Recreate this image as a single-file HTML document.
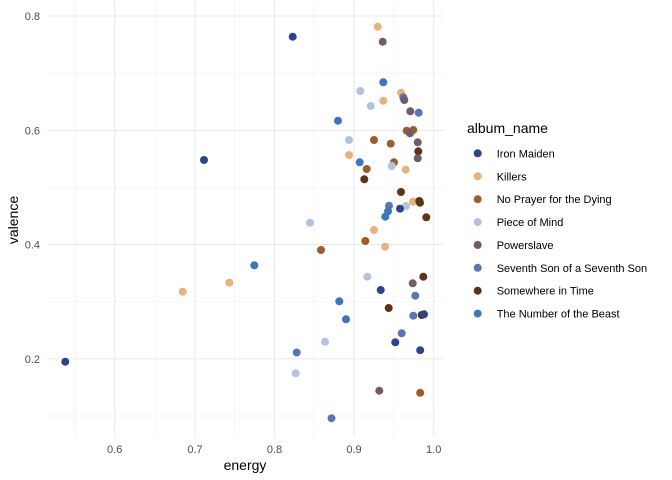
<!DOCTYPE html>
<html><head><meta charset="utf-8"><style>
html,body{margin:0;padding:0;background:#fff;}
svg{display:block;font-family:"Liberation Sans",Arial,sans-serif;}
</style></head><body>
<svg width="672" height="480" viewBox="0 0 672 480" xmlns="http://www.w3.org/2000/svg">
<rect width="672" height="480" fill="#fff"/>
<g stroke="#f0f0f0" stroke-width="0.6">
<line x1="75.5" y1="0" x2="75.5" y2="437"/><line x1="155" y1="0" x2="155" y2="437"/><line x1="234.5" y1="0" x2="234.5" y2="437"/><line x1="314" y1="0" x2="314" y2="437"/><line x1="394" y1="0" x2="394" y2="437"/>
<line x1="47" y1="73" x2="444" y2="73"/><line x1="47" y1="187.5" x2="444" y2="187.5"/><line x1="47" y1="301.7" x2="444" y2="301.7"/><line x1="47" y1="416" x2="444" y2="416"/>
</g>
<g stroke="#ebebeb" stroke-width="1.1">
<line x1="114.7" y1="0" x2="114.7" y2="437"/><line x1="195" y1="0" x2="195" y2="437"/><line x1="274.5" y1="0" x2="274.5" y2="437"/><line x1="354" y1="0" x2="354" y2="437"/><line x1="433.7" y1="0" x2="433.7" y2="437"/>
<line x1="47" y1="16" x2="444" y2="16"/><line x1="47" y1="130.5" x2="444" y2="130.5"/><line x1="47" y1="244.5" x2="444" y2="244.5"/><line x1="47" y1="358.8" x2="444" y2="358.8"/>
</g>
<g font-size="11" fill="#4d4d4d" text-anchor="end">
<text x="40" y="20">0.8</text><text x="40" y="134.5">0.6</text><text x="40" y="248.5">0.4</text><text x="40" y="362.8">0.2</text>
</g>
<g font-size="11" fill="#4d4d4d" text-anchor="middle">
<text x="114.7" y="453">0.6</text><text x="195" y="453">0.7</text><text x="274.5" y="453">0.8</text><text x="354" y="453">0.9</text><text x="433.7" y="453">1.0</text>
</g>
<text x="245" y="470" font-size="14" text-anchor="middle" fill="#000">energy</text>
<text transform="translate(18,220) rotate(-90)" font-size="14" text-anchor="middle" fill="#000">valence</text>
<g>
<circle cx="377.7" cy="26.7" r="4" fill="#e6b27f"/>
<circle cx="382.7" cy="41.7" r="4" fill="#735a6e"/>
<circle cx="292.7" cy="36.7" r="4" fill="#2e4488"/>
<circle cx="383.3" cy="82.3" r="4" fill="#3e76be"/>
<circle cx="360.3" cy="91" r="4" fill="#b3c3de"/>
<circle cx="401" cy="92.7" r="4" fill="#e6b27f"/>
<circle cx="403.3" cy="97.3" r="4" fill="#5a76b0"/>
<circle cx="404.3" cy="100" r="4" fill="#735a6e"/>
<circle cx="383.3" cy="100.7" r="4" fill="#e6b27f"/>
<circle cx="370.7" cy="106" r="4" fill="#b3c3de"/>
<circle cx="410.3" cy="111.3" r="4" fill="#735a6e"/>
<circle cx="418.7" cy="112.7" r="4" fill="#5a76b0"/>
<circle cx="338" cy="120.7" r="4" fill="#3e76be"/>
<circle cx="406.7" cy="130.7" r="4" fill="#9c5e2a"/>
<circle cx="413.3" cy="130" r="4" fill="#9c5e2a"/>
<circle cx="410" cy="133.3" r="4" fill="#735a6e"/>
<circle cx="349" cy="140" r="4" fill="#b3c3de"/>
<circle cx="374" cy="140" r="4" fill="#9c5e2a"/>
<circle cx="390.7" cy="143.7" r="4" fill="#9c5e2a"/>
<circle cx="417.7" cy="142.3" r="4" fill="#735a6e"/>
<circle cx="418.3" cy="151.3" r="4" fill="#5e3317"/>
<circle cx="417.7" cy="158.3" r="4" fill="#735a6e"/>
<circle cx="349" cy="155" r="4" fill="#e6b27f"/>
<circle cx="204" cy="160" r="4" fill="#2e4488"/>
<circle cx="359.7" cy="162.3" r="4" fill="#3e76be"/>
<circle cx="394" cy="162.3" r="4" fill="#9c5e2a"/>
<circle cx="391.7" cy="166" r="4" fill="#b3c3de"/>
<circle cx="405.7" cy="169.7" r="4" fill="#e6b27f"/>
<circle cx="366.7" cy="169" r="4" fill="#9c5e2a"/>
<circle cx="364.3" cy="179.3" r="4" fill="#5e3317"/>
<circle cx="401" cy="192" r="4" fill="#5e3317"/>
<circle cx="413" cy="201.7" r="4" fill="#e6b27f"/>
<circle cx="419.3" cy="201" r="4" fill="#5e3317"/>
<circle cx="420" cy="202.7" r="4" fill="#5e3317"/>
<circle cx="406" cy="206" r="4" fill="#b3c3de"/>
<circle cx="389" cy="205.7" r="4" fill="#5a76b0"/>
<circle cx="400" cy="208.7" r="4" fill="#2e4488"/>
<circle cx="388" cy="211.3" r="4" fill="#3e76be"/>
<circle cx="385.3" cy="216.7" r="4" fill="#3e76be"/>
<circle cx="426.3" cy="217.3" r="4" fill="#5e3317"/>
<circle cx="310" cy="222.7" r="4" fill="#b3c3de"/>
<circle cx="374" cy="230" r="4" fill="#e6b27f"/>
<circle cx="365.3" cy="241" r="4" fill="#9c5e2a"/>
<circle cx="385" cy="246.7" r="4" fill="#e6b27f"/>
<circle cx="321" cy="250" r="4" fill="#9c5e2a"/>
<circle cx="254.3" cy="265.3" r="4" fill="#3e76be"/>
<circle cx="367.3" cy="276.7" r="4" fill="#b3c3de"/>
<circle cx="423.3" cy="276.7" r="4" fill="#5e3317"/>
<circle cx="229.3" cy="282.7" r="4" fill="#e6b27f"/>
<circle cx="412.7" cy="283.3" r="4" fill="#735a6e"/>
<circle cx="380.7" cy="290" r="4" fill="#2e4488"/>
<circle cx="182.7" cy="291.7" r="4" fill="#e6b27f"/>
<circle cx="415.3" cy="295.7" r="4" fill="#5a76b0"/>
<circle cx="339.3" cy="301.3" r="4" fill="#3e76be"/>
<circle cx="388.7" cy="308" r="4" fill="#5e3317"/>
<circle cx="413.3" cy="315.7" r="4" fill="#5a76b0"/>
<circle cx="421.7" cy="315" r="4" fill="#5e3317"/>
<circle cx="424" cy="314.3" r="4" fill="#2e4488"/>
<circle cx="346" cy="319.3" r="4" fill="#3e76be"/>
<circle cx="401.7" cy="333.3" r="4" fill="#5a76b0"/>
<circle cx="395.3" cy="342.3" r="4" fill="#2e4488"/>
<circle cx="325" cy="341.7" r="4" fill="#b3c3de"/>
<circle cx="420.2" cy="350.2" r="4" fill="#2e4488"/>
<circle cx="296.7" cy="352.5" r="4" fill="#5a76b0"/>
<circle cx="65.3" cy="361.7" r="4" fill="#2e4488"/>
<circle cx="295.7" cy="373.3" r="4" fill="#b3c3de"/>
<circle cx="379.3" cy="390.7" r="4" fill="#735a6e"/>
<circle cx="420.2" cy="392.8" r="4" fill="#9c5e2a"/>
<circle cx="331.5" cy="418.2" r="4" fill="#5a76b0"/>
</g>
<text x="467" y="133" font-size="14" fill="#000">album_name</text>
<g font-size="11" fill="#000">
<circle cx="477.7" cy="153.3" r="4" fill="#2e4488"/><text x="496.7" y="157.3">Iron Maiden</text>
<circle cx="477.7" cy="176.3" r="4" fill="#e6b27f"/><text x="496.7" y="180.3">Killers</text>
<circle cx="477.7" cy="199.2" r="4" fill="#9c5e2a"/><text x="496.7" y="203.2">No Prayer for the Dying</text>
<circle cx="477.7" cy="222.1" r="4" fill="#b3c3de"/><text x="496.7" y="226.1">Piece of Mind</text>
<circle cx="477.7" cy="245" r="4" fill="#735a6e"/><text x="496.7" y="249">Powerslave</text>
<circle cx="477.7" cy="267.8" r="4" fill="#5a76b0"/><text x="496.7" y="271.8">Seventh Son of a Seventh Son</text>
<circle cx="477.7" cy="290.7" r="4" fill="#5e3317"/><text x="496.7" y="294.7">Somewhere in Time</text>
<circle cx="477.7" cy="313.6" r="4" fill="#3e76be"/><text x="496.7" y="317.6">The Number of the Beast</text>
</g>
</svg>
</body></html>
